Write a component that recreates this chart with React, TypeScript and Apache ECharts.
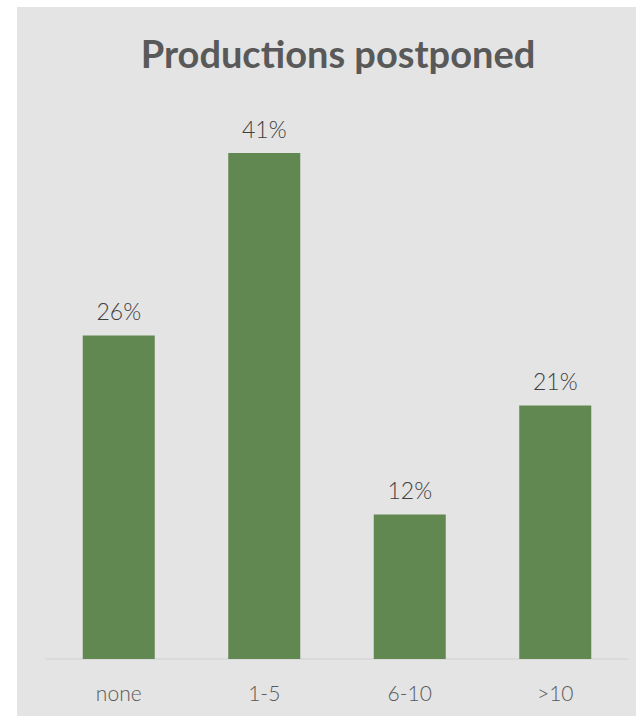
import React, { useEffect, useRef } from "react";
import * as echarts from "echarts";

const categories = ["none", "1-5", "6-10", ">10"];
const values = [26.4, 41.3, 11.8, 20.7];
const titleText = "Productions postponed";

export default function App() {
  const ref = useRef<HTMLDivElement>(null);
  useEffect(() => {
    if (!ref.current) return;
    const chart = echarts.init(ref.current, null, { renderer: "svg" });
    chart.setOption({
      animation: false,
      backgroundColor: "#e4e4e4",
      title: {
        text: titleText,
        left: 316,
        top: 22,
        textAlign: "center",
        textStyle: {
          fontFamily: "Lato",
          fontWeight: "bold",
          fontSize: 38,
          color: "#595959",
        },
      },
      grid: { left: 29, right: 8, bottom: 57, top: 39.5, containLabel: false },
      xAxis: {
        type: "category",
        data: categories,
        axisLine: { show: true, lineStyle: { color: "#d6d6d6", width: 1.5 } },
        axisTick: { show: false },
        axisLabel: {
          fontFamily: "Lato",
          fontWeight: 300,
          fontSize: 21,
          color: "#595959",
          margin: 23,
        },
      },
      yAxis: {
        type: "value",
        min: 0,
        max: 50,
        show: false,
        splitLine: { show: false },
      },
      series: [
        {
          type: "bar",
          data: values,
          barWidth: 72,
          itemStyle: { color: "#618850" },
          label: {
            show: true,
            position: "top",
            distance: 13,
            fontFamily: "Lato",
            fontWeight: 300,
            fontSize: 23,
            color: "#404040",
            formatter: (p: any) => Math.round(p.value) + "%",
          },
        },
      ],
    });
    return () => chart.dispose();
  }, []);
  return (
    <div style={{ position: "absolute", left: 0, top: 0, width: 636, height: 716, background: "#fff", overflow: "hidden" }}>
      <div ref={ref} style={{ position: "absolute", left: 17, top: 7, width: 619, height: 709 }} />
    </div>
  );
}
